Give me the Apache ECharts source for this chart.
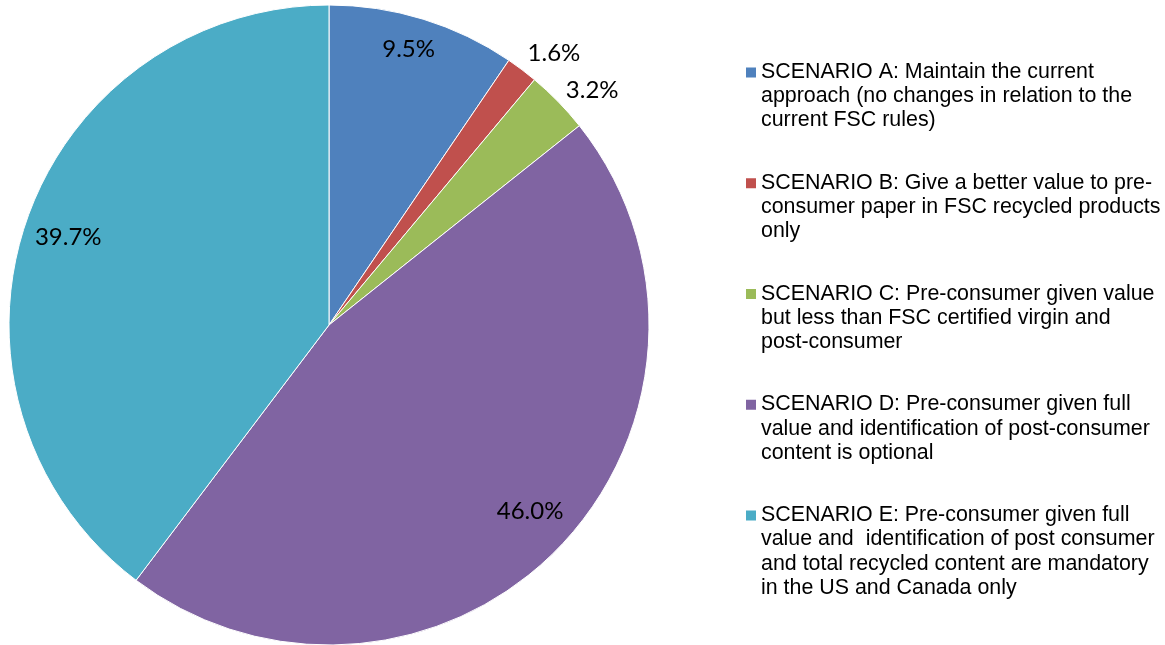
<!DOCTYPE html>
<html>
<head>
<meta charset="utf-8">
<script src="https://cdn.jsdelivr.net/npm/echarts@6/dist/echarts.min.js"></script>
<style>
html,body{margin:0;padding:0;background:#fff;}
#chart{width:1165px;height:645px;}
</style>
</head>
<body>
<div id="chart"></div>
<script>
const categories = [
  'SCENARIO A: Maintain the current\napproach (no changes in relation to the\ncurrent FSC rules)',
  'SCENARIO B: Give a better value to pre-\nconsumer paper in FSC recycled products\nonly',
  'SCENARIO C: Pre-consumer given value\nbut less than FSC certified virgin and\npost-consumer',
  'SCENARIO D: Pre-consumer given full\nvalue and identification of post-consumer\ncontent is optional',
  'SCENARIO E: Pre-consumer given full\nvalue and  identification of post consumer\nand total recycled content are mandatory\nin the US and Canada only'
];
const values = [9.5, 1.6, 3.2, 46.0, 39.7];
const colors = ['#4F81BD', '#C0504D', '#9BBB59', '#8064A2', '#4BACC6'];

const CX = 329, CY = 325, R = 320;

const data = categories.map((c, i) => ({ name: c, value: values[i], itemStyle: { color: colors[i] } }));

// overlay pies used only to place the value labels at the proper radius
function labelSeries(inner, outer, startAngle, show) {
  return {
    type: 'pie',
    center: [CX, CY],
    radius: [inner, outer],
    startAngle: startAngle,
    silent: true,
    legendHoverLink: false,
    itemStyle: { color: 'rgba(0,0,0,0)', borderWidth: 0 },
    emphasis: { disabled: true },
    labelLine: { show: false },
    label: { show: false },
    data: categories.map((c, i) => ({
      name: c + '#lbl',
      value: values[i],
      itemStyle: { color: 'rgba(0,0,0,0)' },
      label: {
        show: show.includes(i),
        position: 'inside',
        formatter: values[i].toFixed(1) + '%',
        color: '#000',
        fontFamily: 'Lato',
        fontSize: 24
      }
    }))
  };
}

const chart = echarts.init(document.getElementById('chart'), null, { renderer: 'canvas' });
chart.setOption({
  animation: false,
  backgroundColor: '#fff',
  color: colors,
  legend: {
    orient: 'vertical',
    left: 746,
    top: 60,
    padding: 0,
    itemGap: 14,
    itemWidth: 10,
    itemHeight: 96,
    selectedMode: false,
    icon: 'path://M0,7L10,7L10,17L0,17Z M0,0L0.001,0Z M0,96L0.001,96Z',
    itemStyle: { borderWidth: 0 },
    textStyle: { fontFamily: 'Liberation Sans', fontSize: 21.4, lineHeight: 24.2, color: '#000' },
    formatter: function (name) {
      const n = name.split('\n').length;
      return n < 4 ? name + '\n ' : name;
    },
    data: categories
  },
  series: [
    {
      type: 'pie',
      center: [CX, CY],
      radius: R,
      startAngle: 90,
      label: { show: false },
      labelLine: { show: false },
      emphasis: { disabled: true },
      itemStyle: { borderColor: '#fff', borderWidth: 1 },
      data: data
    },
    labelSeries(248, 320, 91, [0]),
    labelSeries(224, 320, 90, [4]),
    labelSeries(222, 320, 91.5, [3]),
    labelSeries(320, 380, 87.5, [1, 2])
  ]
});
</script>
</body>
</html>
